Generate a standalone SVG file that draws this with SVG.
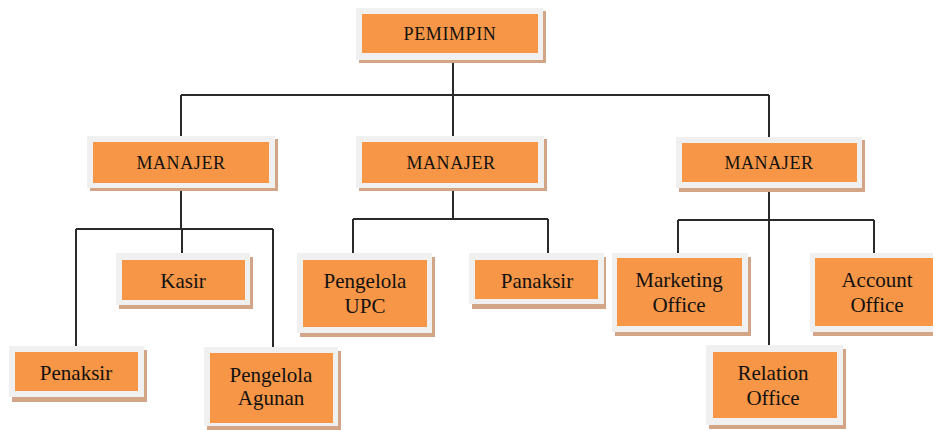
<svg xmlns="http://www.w3.org/2000/svg" width="933" height="430" viewBox="0 0 933 430">
<style>
.sh{fill:#d2a587}
.bd{fill:#f0f0f0}
.in{fill:#f79646}
.t{font-family:"Liberation Serif","Times New Roman",serif;font-size:21px;fill:#111;text-anchor:middle}
.c{font-size:18px;letter-spacing:0.6px}
.ln{fill:none;stroke:#2a2a2a;stroke-width:2}
</style>
<rect width="933" height="430" fill="#ffffff"/>
<g id="connectors" class="ln">
<path d="M453 60V95M181 95H769M181 95V136M453 95V136M769 95V137"/>
<path d="M181 188V229M76 229H273M182 229V253M76 229V346M273 229V347"/>
<path d="M453 188V219M353 219H548M353 219V253M548 219V253"/>
<path d="M769 187V345M678 220H874M678 220V253M874 220V253"/>
</g>
<g id="pemimpin">
<rect class="sh" x="359" y="11" width="187" height="52"/>
<rect class="bd" x="356" y="8" width="187" height="52"/>
<rect class="in" x="362" y="14" width="176" height="39"/>
<text class="t c" x="450" y="40">PEMIMPIN</text>
</g>
<g id="manajer1">
<rect class="sh" x="90" y="139" width="188" height="52"/>
<rect class="bd" x="87" y="136" width="188" height="52"/>
<rect class="in" x="93" y="142" width="176" height="41"/>
<text class="t c" x="181" y="169">MANAJER</text>
</g>
<g id="manajer2">
<rect class="sh" x="359" y="139" width="188" height="52"/>
<rect class="bd" x="356" y="136" width="188" height="52"/>
<rect class="in" x="362" y="142" width="176" height="41"/>
<text class="t c" x="451" y="169">MANAJER</text>
</g>
<g id="manajer3">
<rect class="sh" x="679" y="140" width="186" height="52"/>
<rect class="bd" x="676" y="137" width="186" height="51"/>
<rect class="in" x="682" y="143" width="175" height="39"/>
<text class="t c" x="769" y="169">MANAJER</text>
</g>
<g id="kasir">
<rect class="sh" x="119" y="257" width="134" height="52"/>
<rect class="bd" x="116" y="253" width="134" height="52"/>
<rect class="in" x="122" y="260" width="123" height="40"/>
<text class="t" x="183" y="288">Kasir</text>
</g>
<g id="penaksir">
<rect class="sh" x="12" y="350" width="135" height="52"/>
<rect class="bd" x="9" y="346" width="135" height="51"/>
<rect class="in" x="15" y="352" width="123" height="39"/>
<text class="t" x="76" y="380">Penaksir</text>
</g>
<g id="pengelola-agunan">
<rect class="sh" x="207" y="351" width="134" height="79"/>
<rect class="bd" x="204" y="347" width="134" height="79"/>
<rect class="in" x="210" y="353" width="123" height="70"/>
<text class="t" x="271" y="382">Pengelola</text>
<text class="t" x="271" y="405">Agunan</text>
</g>
<g id="pengelola-upc">
<rect class="sh" x="300" y="257" width="135" height="80"/>
<rect class="bd" x="297" y="253" width="135" height="80"/>
<rect class="in" x="303" y="260" width="124" height="67"/>
<text class="t" x="365" y="288">Pengelola</text>
<text class="t" x="365" y="313">UPC</text>
</g>
<g id="panaksir">
<rect class="sh" x="472" y="257" width="134" height="52"/>
<rect class="bd" x="469" y="253" width="135" height="51"/>
<rect class="in" x="475" y="260" width="123" height="39"/>
<text class="t" x="537" y="288">Panaksir</text>
</g>
<g id="marketing-office">
<rect class="sh" x="615" y="257" width="136" height="79"/>
<rect class="bd" x="612" y="253" width="136" height="79"/>
<rect class="in" x="617" y="258" width="125" height="68"/>
<text class="t" x="679" y="287">Marketing</text>
<text class="t" x="679" y="312">Office</text>
</g>
<g id="account-office">
<rect class="sh" x="813" y="257" width="136" height="79"/>
<rect class="bd" x="810" y="253" width="136" height="79"/>
<rect class="in" x="815" y="258" width="125" height="68"/>
<text class="t" x="877" y="287">Account</text>
<text class="t" x="877" y="312">Office</text>
</g>
<g id="relation-office">
<rect class="sh" x="709" y="349" width="137" height="80"/>
<rect class="bd" x="706" y="345" width="137" height="80"/>
<rect class="in" x="713" y="352" width="124" height="66"/>
<text class="t" x="773" y="380">Relation</text>
<text class="t" x="773" y="405">Office</text>
</g>
</svg>
